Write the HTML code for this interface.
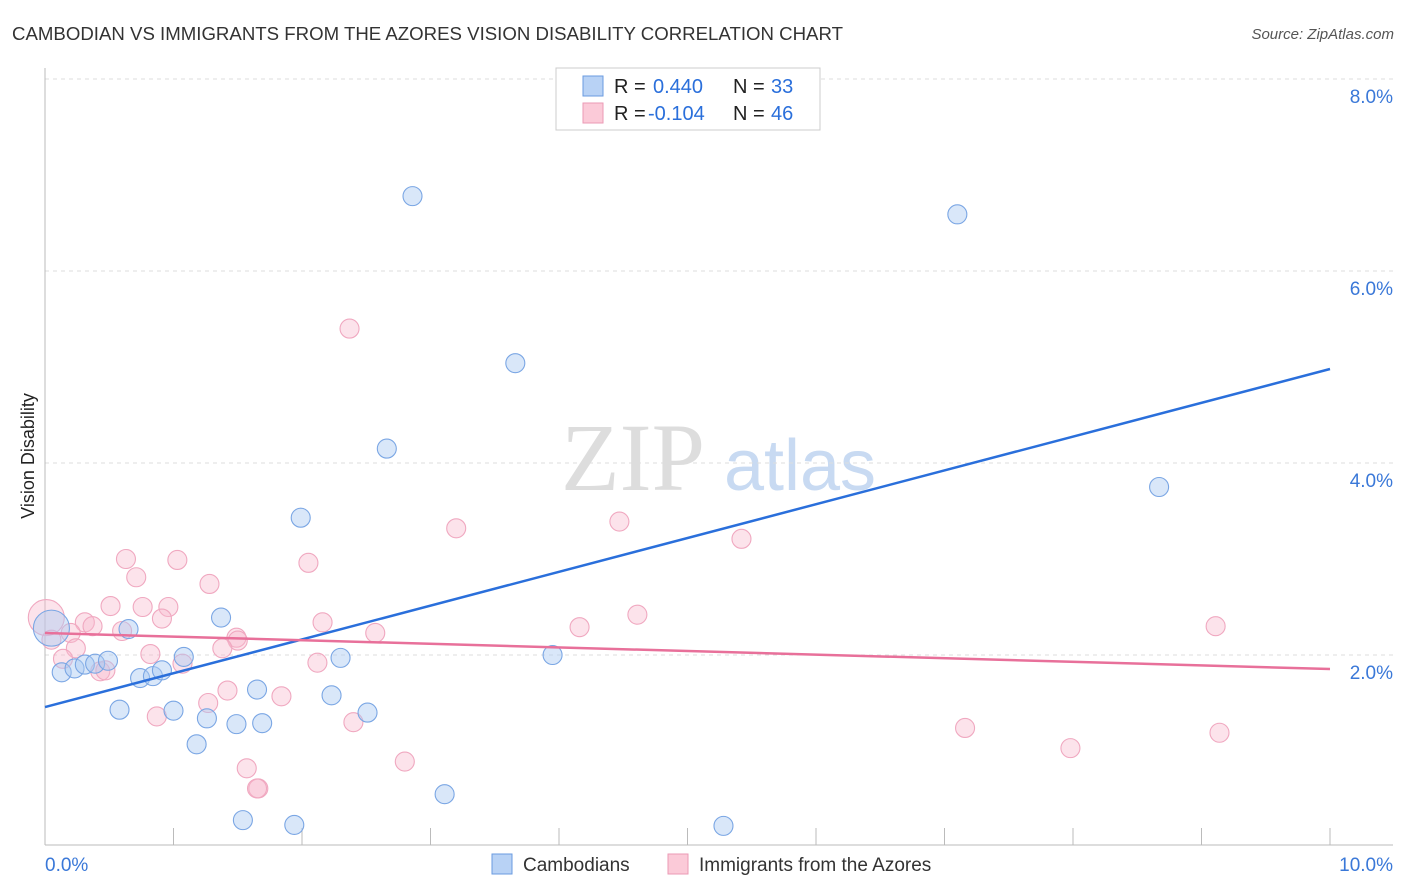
<!DOCTYPE html>
<html><head><meta charset="utf-8"><style>
body{margin:0;background:#fff;font-family:"Liberation Sans",sans-serif}
svg{display:block}
</style></head><body>
<svg id="c" width="1406" height="892">
<text x="12" y="40" font-size="18" fill="#333" textLength="831" lengthAdjust="spacingAndGlyphs">CAMBODIAN VS IMMIGRANTS FROM THE AZORES VISION DISABILITY CORRELATION CHART</text>
<text x="1394" y="39" font-size="15" fill="#555" font-style="italic" text-anchor="end">Source: ZipAtlas.com</text>
<text x="34" y="456" font-size="18" fill="#222" transform="rotate(-90 34 456)" text-anchor="middle">Vision Disability</text>
<text x="633" y="490" font-size="96" fill="#ddd" font-family="Liberation Serif,serif" text-anchor="middle">ZIP</text>
<text x="800" y="490" font-size="72" fill="#c8daf2" text-anchor="middle">atlas</text>
<g id="grid"></g><g id="pts"></g><g id="lines"></g>
<g>
<rect x="556" y="68" width="264" height="62" fill="#fff" stroke="#ccc"/>
<rect x="583" y="76" width="20" height="20" fill="#b8d2f5" stroke="#6a9be0"/>
<text x="614" y="93" font-size="20" fill="#222">R =</text>
<text x="653" y="93" font-size="20" fill="#2a6fdb">0.440</text>
<text x="733" y="93" font-size="20" fill="#222">N =</text>
<text x="771" y="93" font-size="20" fill="#2a6fdb">33</text>
<rect x="583" y="103" width="20" height="20" fill="#fbcad8" stroke="#eb9ab5"/>
<text x="614" y="120" font-size="20" fill="#222">R =</text>
<text x="648" y="120" font-size="20" fill="#2a6fdb">-0.104</text>
<text x="733" y="120" font-size="20" fill="#222">N =</text>
<text x="771" y="120" font-size="20" fill="#2a6fdb">46</text>
</g>
<g>
<rect x="492" y="854" width="20" height="20" fill="#b8d2f5" stroke="#6a9be0"/>
<text x="523" y="871" font-size="19" fill="#333">Cambodians</text>
<rect x="668" y="854" width="20" height="20" fill="#fbcad8" stroke="#eb9ab5"/>
<text x="699" y="871" font-size="19" fill="#333">Immigrants from the Azores</text>
</g>
</svg>
<script>
const blueX=[2.86,7.10,3.66,2.66,8.67,1.99,1.37,0.65,0.05,0.13,0.23,0.31,0.39,0.49,0.74,0.84,0.91,1.08,2.30,3.95,0.58,1.00,1.26,1.18,1.49,1.69,1.65,2.23,2.51,3.11,1.54,1.94,5.28];
const blueY=[6.78,6.59,5.04,4.15,3.75,3.43,2.39,2.27,2.28,1.82,1.86,1.90,1.91,1.94,1.76,1.78,1.84,1.98,1.97,2.00,1.43,1.42,1.34,1.07,1.28,1.29,1.64,1.58,1.40,0.55,0.28,0.23,0.22];
const blueBig=[8];
const pinkX=[2.37,3.20,4.47,5.42,2.05,0.63,1.03,0.71,1.28,0.51,0.76,0.96,0.91,0.31,0.37,0.01,0.20,0.60,2.16,2.57,4.16,4.61,9.11,1.49,1.50,1.38,0.24,0.82,0.14,1.07,2.12,0.43,0.47,1.42,1.84,1.27,0.87,2.40,7.16,7.98,9.14,2.80,1.57,1.66,1.65,0.05];
const pinkY=[5.40,3.32,3.39,3.21,2.96,3.00,2.99,2.81,2.74,2.51,2.50,2.50,2.38,2.34,2.30,2.39,2.23,2.25,2.34,2.23,2.29,2.42,2.30,2.18,2.15,2.07,2.07,2.01,1.96,1.91,1.92,1.83,1.84,1.63,1.57,1.50,1.36,1.30,1.24,1.03,1.19,0.89,0.82,0.61,0.61,2.16];
const pinkBig=[15];
const blueTrend=[1.458,4.979];
const pinkTrend=[2.229,1.854];
const yTicks=[2,4,6,8];
const xTickLabels=["0.0%","10.0%"];
const NS="http://www.w3.org/2000/svg";
const sx=v=>45+v*128.5, sy=v=>847-v*96;
function mk(t,a,p){const e=document.createElementNS(NS,t);for(const k in a)e.setAttribute(k,a[k]);p.appendChild(e);return e;}
const grid=document.getElementById('grid');
yTicks.forEach(t=>{
 const l=mk('line',{x1:45,x2:1393,y1:sy(t),y2:sy(t),stroke:'#ddd','stroke-dasharray':'4,4'},grid);
 
 
 const tx=mk('text',{x:1393,y:sy(t)+24,'font-size':19,fill:'#3a78d8','text-anchor':'end'},grid);
 tx.textContent=t.toFixed(1)+'%';
 
 
});
const ax=mk('line',{x1:45,x2:1393,y1:845,y2:845,stroke:'#bbb'},grid);


const ay=mk('line',{x1:45,x2:45,y1:68,y2:845,stroke:'#bbb'},grid);


for(let i=0;i<=10;i++){const t=mk('line',{x1:sx(i),x2:sx(i),y1:828,y2:845,stroke:'#bbb'},grid);
 
 }
[[0,'start',45],[10,'end',1393]].forEach((d,i)=>{const t=mk('text',{x:d[2],y:871,'font-size':19,fill:'#3a78d8','text-anchor':d[1]},grid);t.textContent=xTickLabels[i];
 
 });
const pts=document.getElementById('pts');
function draw(X,Y,big,fill,stroke,name){X.forEach((x,i)=>{const b=big.includes(i);const c=mk('circle',{cx:sx(x),cy:sy(Y[i]),r:b?18:9.5,fill:fill,stroke:stroke,'stroke-width':1.1},pts);
 
 });}
draw(pinkX,pinkY,pinkBig,'rgba(248,185,205,0.4)','#f0a8c0','azores-point');
draw(blueX,blueY,blueBig,'rgba(170,202,242,0.45)','#7aa6e4','cambodian-point');
const lines=document.getElementById('lines');
const bl=mk('line',{x1:sx(0),x2:sx(10),y1:sy(blueTrend[0]),y2:sy(blueTrend[1]),stroke:'#2a6fdb','stroke-width':2.5},lines);


const pl=mk('line',{x1:sx(0),x2:sx(10),y1:sy(pinkTrend[0]),y2:sy(pinkTrend[1]),stroke:'#e8709a','stroke-width':2.5},lines);


</script>
</body></html>
